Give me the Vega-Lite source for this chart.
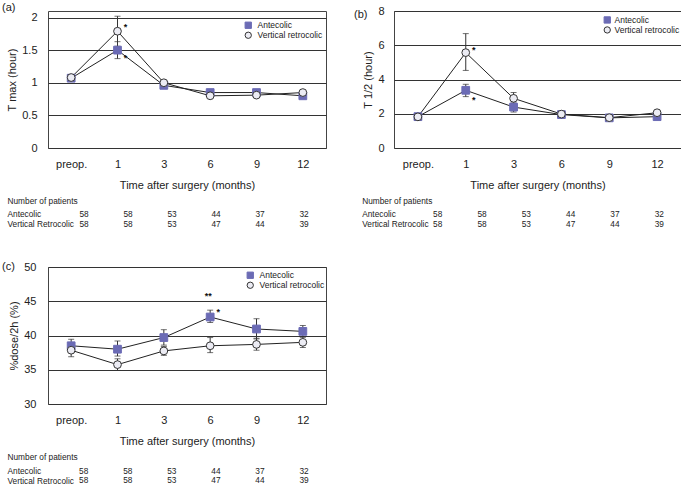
{
  "$schema": "https://vega.github.io/schema/vega-lite/v6.json",
  "padding": {"left": 1, "top": 1, "right": 0, "bottom": 0},
  "background": "white",
  "columns": 2,
  "spacing": {"row": 119, "column": 68},
  "bounds": "flush",
  "align": "each",
  "resolve": {"scale": {"shape": "independent", "fill": "independent", "stroke": "independent"}, "legend": {"shape": "independent", "fill": "independent", "stroke": "independent"}},
  "datasets": {
    "tmax": [
      {"time": "preop.", "group": "Antecolic", "mean": 1.07, "lo": null, "hi": null},
      {"time": "1", "group": "Antecolic", "mean": 1.50, "lo": 1.37, "hi": 1.63},
      {"time": "3", "group": "Antecolic", "mean": 0.96, "lo": null, "hi": null},
      {"time": "6", "group": "Antecolic", "mean": 0.85, "lo": null, "hi": null},
      {"time": "9", "group": "Antecolic", "mean": 0.85, "lo": null, "hi": null},
      {"time": "12", "group": "Antecolic", "mean": 0.80, "lo": null, "hi": null},
      {"time": "preop.", "group": "Vertical retrocolic", "mean": 1.08, "lo": null, "hi": null},
      {"time": "1", "group": "Vertical retrocolic", "mean": 1.79, "lo": 1.56, "hi": 2.02},
      {"time": "3", "group": "Vertical retrocolic", "mean": 1.00, "lo": null, "hi": null},
      {"time": "6", "group": "Vertical retrocolic", "mean": 0.80, "lo": null, "hi": null},
      {"time": "9", "group": "Vertical retrocolic", "mean": 0.81, "lo": null, "hi": null},
      {"time": "12", "group": "Vertical retrocolic", "mean": 0.85, "lo": null, "hi": null}
    ],
    "thalf": [
      {"time": "preop.", "group": "Antecolic", "mean": 1.83, "lo": null, "hi": null},
      {"time": "1", "group": "Antecolic", "mean": 3.37, "lo": 3.0, "hi": 3.72},
      {"time": "3", "group": "Antecolic", "mean": 2.39, "lo": 2.1, "hi": 2.62},
      {"time": "6", "group": "Antecolic", "mean": 1.95, "lo": null, "hi": null},
      {"time": "9", "group": "Antecolic", "mean": 1.76, "lo": null, "hi": null},
      {"time": "12", "group": "Antecolic", "mean": 1.83, "lo": null, "hi": null},
      {"time": "preop.", "group": "Vertical retrocolic", "mean": 1.82, "lo": null, "hi": null},
      {"time": "1", "group": "Vertical retrocolic", "mean": 5.57, "lo": 4.53, "hi": 6.68},
      {"time": "3", "group": "Vertical retrocolic", "mean": 2.90, "lo": 2.62, "hi": 3.24},
      {"time": "6", "group": "Vertical retrocolic", "mean": 1.98, "lo": null, "hi": null},
      {"time": "9", "group": "Vertical retrocolic", "mean": 1.77, "lo": null, "hi": null},
      {"time": "12", "group": "Vertical retrocolic", "mean": 2.06, "lo": null, "hi": null}
    ],
    "dose": [
      {"time": "preop.", "group": "Antecolic", "mean": 38.5, "lo": 37.6, "hi": 39.45},
      {"time": "1", "group": "Antecolic", "mean": 38.0, "lo": 37.0, "hi": 39.2},
      {"time": "3", "group": "Antecolic", "mean": 39.7, "lo": 38.6, "hi": 40.85},
      {"time": "6", "group": "Antecolic", "mean": 42.7, "lo": 41.9, "hi": 43.7},
      {"time": "9", "group": "Antecolic", "mean": 40.95, "lo": 39.5, "hi": 42.45},
      {"time": "12", "group": "Antecolic", "mean": 40.6, "lo": 39.8, "hi": 41.45},
      {"time": "preop.", "group": "Vertical retrocolic", "mean": 37.85, "lo": 36.9, "hi": 38.8},
      {"time": "1", "group": "Vertical retrocolic", "mean": 35.75, "lo": 34.9, "hi": 36.6},
      {"time": "3", "group": "Vertical retrocolic", "mean": 37.75, "lo": 37.1, "hi": 38.4},
      {"time": "6", "group": "Vertical retrocolic", "mean": 38.5, "lo": 37.5, "hi": 39.7},
      {"time": "9", "group": "Vertical retrocolic", "mean": 38.7, "lo": 37.85, "hi": 39.6},
      {"time": "12", "group": "Vertical retrocolic", "mean": 39.0, "lo": 38.25, "hi": 39.75}
    ],
    "stars_a": [
      {"time": "1", "value": 1.885, "label": "*"},
      {"time": "1", "value": 1.41, "label": "*"}
    ],
    "stars_b": [
      {"time": "1", "value": 5.86, "label": "*"},
      {"time": "1", "value": 2.94, "label": "*"}
    ],
    "stars_c": [
      {"time": "6", "value": 46.1, "label": "**"},
      {"time": "6", "value": 43.7, "label": "*"}
    ],
    "patients": [
      {"time": "preop.", "group": "Antecolic", "n": 58},
      {"time": "1", "group": "Antecolic", "n": 58},
      {"time": "3", "group": "Antecolic", "n": 53},
      {"time": "6", "group": "Antecolic", "n": 44},
      {"time": "9", "group": "Antecolic", "n": 37},
      {"time": "12", "group": "Antecolic", "n": 32},
      {"time": "preop.", "group": "Vertical Retrocolic", "n": 58},
      {"time": "1", "group": "Vertical Retrocolic", "n": 58},
      {"time": "3", "group": "Vertical Retrocolic", "n": 53},
      {"time": "6", "group": "Vertical Retrocolic", "n": 47},
      {"time": "9", "group": "Vertical Retrocolic", "n": 44},
      {"time": "12", "group": "Vertical Retrocolic", "n": 39}
    ]
  },
  "concat": [
    {
      "width": 278, "height": 137,
      "title": {"text": "(a)", "anchor": "start", "frame": "group", "dx": -46, "dy": 8, "offset": 0, "baseline": "middle", "fontSize": 11, "fontWeight": "normal", "color": "#222"},
      "layer": [
        {
          "data": {"name": "tmax"},
          "encoding": {
            "x": {"field": "time", "type": "ordinal", "scale": {"type": "point", "padding": 0.5, "domain": ["preop.", "1", "3", "6", "9", "12"]},
              "axis": {"title": "Time after surgery (months)", "labelAngle": 0, "domain": false, "ticks": false, "grid": false, "labelPadding": 10, "labelFontSize": 11, "titleFontSize": 11, "titleFontWeight": "normal", "titlePadding": 10}}
          },
          "layer": [
            {"mark": {"type": "line", "color": "#222", "strokeWidth": 1},
             "encoding": {
               "y": {"field": "mean", "type": "quantitative", "scale": {"domain": [0, 2.1], "nice": false},
                 "axis": {"title": "T max (hour)", "values": [0, 0.5, 1, 1.5, 2], "tickCount": 5, "labelOverlap": false, "format": "~g", "grid": true, "gridColor": "#333", "gridWidth": 1.2, "domain": false, "ticks": false, "labelPadding": 11, "labelFontSize": 11, "titleFontSize": 11, "titleFontWeight": "normal", "titlePadding": 4}},
               "detail": {"field": "group"},
               "order": {"value": null}}},
            {"mark": {"type": "rule", "color": "#333", "strokeWidth": 1},
             "encoding": {"y": {"field": "lo", "type": "quantitative", "scale": {"domain": [0, 2.1], "nice": false}}, "y2": {"field": "hi"}}},
            {"mark": {"type": "tick", "orient": "horizontal", "size": 6, "thickness": 1, "color": "#333"},
             "encoding": {"y": {"field": "lo", "type": "quantitative", "scale": {"domain": [0, 2.1], "nice": false}}}},
            {"mark": {"type": "tick", "orient": "horizontal", "size": 6, "thickness": 1, "color": "#333"},
             "encoding": {"y": {"field": "hi", "type": "quantitative", "scale": {"domain": [0, 2.1], "nice": false}}}},
            {"mark": {"type": "point", "filled": true, "size": 60, "strokeWidth": 1, "opacity": 1},
             "encoding": {
               "y": {"field": "mean", "type": "quantitative", "scale": {"domain": [0, 2.1], "nice": false}},
               "shape": {"field": "group", "type": "nominal", "scale": {"domain": ["Antecolic", "Vertical retrocolic"], "range": ["square", "circle"]},
                 "legend": {"title": null, "orient": "none", "legendX": 196, "legendY": 10, "labelFontSize": 8.5, "symbolSize": 40, "symbolStrokeWidth": 1, "rowPadding": -1.5, "labelOffset": 5, "padding": 0}},
               "fill": {"field": "group", "type": "nominal", "scale": {"domain": ["Antecolic", "Vertical retrocolic"], "range": ["#6b6bb5", "#ececf4"]},
                 "legend": {"title": null, "orient": "none", "legendX": 196, "legendY": 10, "labelFontSize": 8.5, "symbolSize": 40, "symbolStrokeWidth": 1, "rowPadding": -1.5, "labelOffset": 5, "padding": 0}},
               "stroke": {"field": "group", "type": "nominal", "scale": {"domain": ["Antecolic", "Vertical retrocolic"], "range": ["#6b6bb5", "#333333"]},
                 "legend": {"title": null, "orient": "none", "legendX": 196, "legendY": 10, "labelFontSize": 8.5, "symbolSize": 40, "symbolStrokeWidth": 1, "rowPadding": -1.5, "labelOffset": 5, "padding": 0}}
             }},
            {"data": {"name": "stars_a"},
             "mark": {"type": "text", "fontSize": 9, "fontWeight": "bold", "color": "#111", "dx": 8, "dy": 2, "baseline": "middle"},
             "encoding": {"y": {"field": "value", "type": "quantitative", "scale": {"domain": [0, 2.1], "nice": false}}, "text": {"field": "label"}}}
          ]
        },
        {
          "data": {"name": "patients"},
          "mark": {"type": "text", "fontSize": 8.3, "color": "#222"},
          "encoding": {
            "x": {"field": "time", "type": "ordinal", "scale": {"type": "point", "domain": ["preop.", "1", "3", "6", "9", "12"], "range": [36, 256], "padding": 0}, "axis": null},
            "y": {"field": "group", "type": "nominal", "scale": {"type": "point", "domain": ["Antecolic", "Vertical Retrocolic"], "range": [203.5, 213.5], "padding": 0},
              "axis": {"orient": "left", "title": "Number of patients", "domain": false, "ticks": false, "tickSize": 0, "grid": false, "labelAlign": "left", "labelPadding": 41, "labelFontSize": 8.3, "titleAngle": 0, "titleAlign": "left", "titleBaseline": "middle", "titleX": -41, "titleY": 190, "titleFontSize": 8.3, "titleFontWeight": "normal"}},
            "text": {"field": "n", "type": "quantitative"}
          }
        }
      ],
      "resolve": {"scale": {"x": "independent", "y": "independent"}}
    },
    {
      "width": 287, "height": 137,
      "title": {"text": "(b)", "anchor": "start", "frame": "group", "dx": -40, "dy": 21, "offset": 0, "baseline": "middle", "fontSize": 11, "fontWeight": "normal", "color": "#222"},
      "layer": [
        {
          "data": {"name": "thalf"},
          "encoding": {
            "x": {"field": "time", "type": "ordinal", "scale": {"type": "point", "padding": 0.5, "domain": ["preop.", "1", "3", "6", "9", "12"]},
              "axis": {"title": "Time after surgery (months)", "labelAngle": 0, "domain": false, "ticks": false, "grid": false, "labelPadding": 10, "labelFontSize": 11, "titleFontSize": 11, "titleFontWeight": "normal", "titlePadding": 10}}
          },
          "layer": [
            {"mark": {"type": "line", "color": "#222", "strokeWidth": 1},
             "encoding": {
               "y": {"field": "mean", "type": "quantitative", "scale": {"domain": [0, 8], "nice": false},
                 "axis": {"title": "T 1/2 (hour)", "values": [0, 2, 4, 6, 8], "tickCount": 5, "labelOverlap": false, "grid": true, "gridColor": "#333", "gridWidth": 1.2, "domain": false, "ticks": false, "labelPadding": 10, "labelFontSize": 11, "titleFontSize": 11, "titleFontWeight": "normal", "titlePadding": 4}},
               "detail": {"field": "group"},
               "order": {"value": null}}},
            {"mark": {"type": "rule", "color": "#333", "strokeWidth": 1},
             "encoding": {"y": {"field": "lo", "type": "quantitative", "scale": {"domain": [0, 8], "nice": false}}, "y2": {"field": "hi"}}},
            {"mark": {"type": "tick", "orient": "horizontal", "size": 6, "thickness": 1, "color": "#333"},
             "encoding": {"y": {"field": "lo", "type": "quantitative", "scale": {"domain": [0, 8], "nice": false}}}},
            {"mark": {"type": "tick", "orient": "horizontal", "size": 6, "thickness": 1, "color": "#333"},
             "encoding": {"y": {"field": "hi", "type": "quantitative", "scale": {"domain": [0, 8], "nice": false}}}},
            {"mark": {"type": "point", "filled": true, "size": 60, "strokeWidth": 1, "opacity": 1},
             "encoding": {
               "y": {"field": "mean", "type": "quantitative", "scale": {"domain": [0, 8], "nice": false}},
               "shape": {"field": "group", "type": "nominal", "scale": {"domain": ["Antecolic", "Vertical retrocolic"], "range": ["square", "circle"]},
                 "legend": {"title": null, "orient": "none", "legendX": 209, "legendY": 4.7, "labelFontSize": 8.5, "symbolSize": 40, "symbolStrokeWidth": 1, "rowPadding": -1.5, "labelOffset": 3, "padding": 0}},
               "fill": {"field": "group", "type": "nominal", "scale": {"domain": ["Antecolic", "Vertical retrocolic"], "range": ["#6b6bb5", "#ececf4"]},
                 "legend": {"title": null, "orient": "none", "legendX": 209, "legendY": 4.7, "labelFontSize": 8.5, "symbolSize": 40, "symbolStrokeWidth": 1, "rowPadding": -1.5, "labelOffset": 3, "padding": 0}},
               "stroke": {"field": "group", "type": "nominal", "scale": {"domain": ["Antecolic", "Vertical retrocolic"], "range": ["#6b6bb5", "#333333"]},
                 "legend": {"title": null, "orient": "none", "legendX": 209, "legendY": 4.7, "labelFontSize": 8.5, "symbolSize": 40, "symbolStrokeWidth": 1, "rowPadding": -1.5, "labelOffset": 3, "padding": 0}}
             }},
            {"data": {"name": "stars_b"},
             "mark": {"type": "text", "fontSize": 9, "fontWeight": "bold", "color": "#111", "dx": 8, "dy": 2, "baseline": "middle"},
             "encoding": {"y": {"field": "value", "type": "quantitative", "scale": {"domain": [0, 8], "nice": false}}, "text": {"field": "label"}}}
          ]
        },
        {
          "data": {"name": "patients"},
          "mark": {"type": "text", "fontSize": 8.3, "color": "#222"},
          "encoding": {
            "x": {"field": "time", "type": "ordinal", "scale": {"type": "point", "domain": ["preop.", "1", "3", "6", "9", "12"], "range": [43.7, 265.3], "padding": 0}, "axis": null},
            "y": {"field": "group", "type": "nominal", "scale": {"type": "point", "domain": ["Antecolic", "Vertical Retrocolic"], "range": [203.5, 213.5], "padding": 0},
              "axis": {"orient": "left", "title": "Number of patients", "domain": false, "ticks": false, "tickSize": 0, "grid": false, "labelAlign": "left", "labelPadding": 32.3, "labelFontSize": 8.3, "titleAngle": 0, "titleAlign": "left", "titleBaseline": "middle", "titleX": -32.3, "titleY": 190, "titleFontSize": 8.3, "titleFontWeight": "normal"}},
            "text": {"field": "n", "type": "quantitative"}
          }
        }
      ],
      "resolve": {"scale": {"x": "independent", "y": "independent"}}
    },
    {
      "width": 278, "height": 137,
      "title": {"text": "(c)", "anchor": "start", "frame": "group", "dx": -46, "dy": 17, "offset": 0, "baseline": "middle", "fontSize": 11, "fontWeight": "normal", "color": "#222"},
      "layer": [
        {
          "data": {"name": "dose"},
          "encoding": {
            "x": {"field": "time", "type": "ordinal", "scale": {"type": "point", "padding": 0.5, "domain": ["preop.", "1", "3", "6", "9", "12"]},
              "axis": {"title": "Time after surgery (months)", "labelAngle": 0, "domain": false, "ticks": false, "grid": false, "labelPadding": 10, "labelFontSize": 11, "titleFontSize": 11, "titleFontWeight": "normal", "titlePadding": 10}}
          },
          "layer": [
            {"mark": {"type": "line", "color": "#222", "strokeWidth": 1},
             "encoding": {
               "y": {"field": "mean", "type": "quantitative", "scale": {"domain": [30, 50], "nice": false, "zero": false},
                 "axis": {"title": "%dose/2h (%)", "values": [30, 35, 40, 45, 50], "tickCount": 5, "labelOverlap": false, "grid": true, "gridColor": "#333", "gridWidth": 1.2, "domain": false, "ticks": false, "labelPadding": 12, "labelFontSize": 11, "titleFontSize": 11, "titleFontWeight": "normal", "titlePadding": 4}},
               "detail": {"field": "group"},
               "order": {"value": null}}},
            {"mark": {"type": "rule", "color": "#333", "strokeWidth": 1},
             "encoding": {"y": {"field": "lo", "type": "quantitative", "scale": {"domain": [30, 50], "nice": false, "zero": false}}, "y2": {"field": "hi"}}},
            {"mark": {"type": "tick", "orient": "horizontal", "size": 6, "thickness": 1, "color": "#333"},
             "encoding": {"y": {"field": "lo", "type": "quantitative", "scale": {"domain": [30, 50], "nice": false, "zero": false}}}},
            {"mark": {"type": "tick", "orient": "horizontal", "size": 6, "thickness": 1, "color": "#333"},
             "encoding": {"y": {"field": "hi", "type": "quantitative", "scale": {"domain": [30, 50], "nice": false, "zero": false}}}},
            {"mark": {"type": "point", "filled": true, "size": 60, "strokeWidth": 1, "opacity": 1},
             "encoding": {
               "y": {"field": "mean", "type": "quantitative", "scale": {"domain": [30, 50], "nice": false, "zero": false}},
               "shape": {"field": "group", "type": "nominal", "scale": {"domain": ["Antecolic", "Vertical retrocolic"], "range": ["square", "circle"]},
                 "legend": {"title": null, "orient": "none", "legendX": 198, "legendY": 4, "labelFontSize": 8.5, "symbolSize": 40, "symbolStrokeWidth": 1, "rowPadding": -1.5, "labelOffset": 5, "padding": 0}},
               "fill": {"field": "group", "type": "nominal", "scale": {"domain": ["Antecolic", "Vertical retrocolic"], "range": ["#6b6bb5", "#ececf4"]},
                 "legend": {"title": null, "orient": "none", "legendX": 198, "legendY": 4, "labelFontSize": 8.5, "symbolSize": 40, "symbolStrokeWidth": 1, "rowPadding": -1.5, "labelOffset": 5, "padding": 0}},
               "stroke": {"field": "group", "type": "nominal", "scale": {"domain": ["Antecolic", "Vertical retrocolic"], "range": ["#6b6bb5", "#333333"]},
                 "legend": {"title": null, "orient": "none", "legendX": 198, "legendY": 4, "labelFontSize": 8.5, "symbolSize": 40, "symbolStrokeWidth": 1, "rowPadding": -1.5, "labelOffset": 5, "padding": 0}}
             }},
            {"data": {"name": "stars_c"},
             "transform": [{"filter": "datum.label == '**'"}],
             "mark": {"type": "text", "fontSize": 9, "fontWeight": "bold", "color": "#111", "dx": -2, "dy": 2, "baseline": "middle"},
             "encoding": {"y": {"field": "value", "type": "quantitative", "scale": {"domain": [30, 50], "nice": false, "zero": false}}, "text": {"field": "label"}}},
            {"data": {"name": "stars_c"},
             "transform": [{"filter": "datum.label == '*'"}],
             "mark": {"type": "text", "fontSize": 9, "fontWeight": "bold", "color": "#111", "dx": 8, "dy": 2, "baseline": "middle"},
             "encoding": {"y": {"field": "value", "type": "quantitative", "scale": {"domain": [30, 50], "nice": false, "zero": false}}, "text": {"field": "label"}}}
          ]
        },
        {
          "data": {"name": "patients"},
          "mark": {"type": "text", "fontSize": 8.3, "color": "#222"},
          "encoding": {
            "x": {"field": "time", "type": "ordinal", "scale": {"type": "point", "domain": ["preop.", "1", "3", "6", "9", "12"], "range": [35.7, 256], "padding": 0}, "axis": null},
            "y": {"field": "group", "type": "nominal", "scale": {"type": "point", "domain": ["Antecolic", "Vertical Retrocolic"], "range": [204.5, 214], "padding": 0},
              "axis": {"orient": "left", "title": "Number of patients", "domain": false, "ticks": false, "tickSize": 0, "grid": false, "labelAlign": "left", "labelPadding": 41, "labelFontSize": 8.3, "titleAngle": 0, "titleAlign": "left", "titleBaseline": "middle", "titleX": -41, "titleY": 190.7, "titleFontSize": 8.3, "titleFontWeight": "normal"}},
            "text": {"field": "n", "type": "quantitative"}
          }
        }
      ],
      "resolve": {"scale": {"x": "independent", "y": "independent"}}
    }
  ],
  "config": {
    "font": "Liberation Sans",
    "view": {"stroke": "#444", "strokeWidth": 1},
    "axis": {"labelColor": "#222", "titleColor": "#222", "labelFont": "Liberation Sans", "titleFont": "Liberation Sans"},
    "legend": {"labelFont": "Liberation Sans", "labelColor": "#222"},
    "text": {"font": "Liberation Sans"},
    "title": {"font": "Liberation Sans"}
  }
}
